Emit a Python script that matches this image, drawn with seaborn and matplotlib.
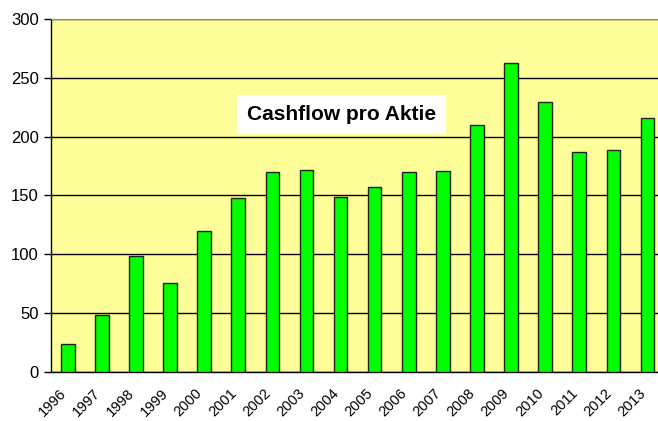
import numpy as np
import pandas as pd
import matplotlib
matplotlib.use("Agg")
import matplotlib.pyplot as plt
import matplotlib.transforms as mtransforms
import seaborn as sns

# Cashflow pro Aktie
years = ["1996", "1997", "1998", "1999", "2000", "2001", "2002", "2003", "2004",
         "2005", "2006", "2007", "2008", "2009", "2010", "2011", "2012", "2013"]
cashflow = [23.5, 48.2, 98.3, 75.6, 119.6, 147.9, 169.7, 171.4, 149.0,
            157.0, 169.7, 170.6, 209.6, 262.6, 229.2, 186.7, 188.4, 215.6]
yticks = [0, 50, 100, 150, 200, 250, 300]

df = pd.DataFrame({"year": years, "cf": cashflow})

sns.set_style("white")
plt.rcParams["font.family"] = ["Liberation Sans", "DejaVu Sans"]
plt.rcParams["text.color"] = "black"
plt.rcParams["xtick.color"] = "black"
plt.rcParams["ytick.color"] = "black"

fig = plt.figure(figsize=(6.58, 4.21), dpi=100)
ax = fig.add_axes([0.077, 0.1164, 0.933, 0.8385])
ax.set_facecolor("#FFFF99")

sns.barplot(data=df, x="year", y="cf", color="#00FF00", width=0.4,
            edgecolor="#222222", linewidth=1.0, saturation=1, ax=ax, zorder=3)

ax.set_xlim(-0.5, len(years) - 0.5)
ax.set_ylim(0, 300)
ax.set_yticks(yticks)
ax.set_yticklabels([str(v) for v in yticks], fontsize=12)
ax.yaxis.grid(True, color="black", linewidth=1.0, zorder=1)
ax.set_axisbelow(True)

# category boundary ticks, labels at centres
ax.set_xticks(np.arange(len(years)))
ax.set_xticklabels(years, rotation=45, ha="right", rotation_mode="anchor", fontsize=10.5)
ax.tick_params(axis="x", which="major", length=0, pad=8)
shift = mtransforms.ScaledTranslation(-9 / 100, -3 / 100, fig.dpi_scale_trans)
for lab in ax.get_xticklabels():
    lab.set_transform(lab.get_transform() + shift)
ax.set_xticks(np.arange(-0.5, len(years), 1.0), minor=True)
ax.tick_params(axis="x", which="minor", length=5, width=1, color="black", direction="out")
ax.tick_params(axis="y", length=5, width=1, color="black", direction="out", left=True)
ax.set_xlabel("")
ax.set_ylabel("")

for side in ["left", "bottom"]:
    ax.spines[side].set_color("black")
    ax.spines[side].set_linewidth(1.0)
ax.spines["top"].set_color("#888888")
ax.spines["right"].set_visible(False)

ax.text(0.474, 0.73, "Cashflow pro Aktie", transform=ax.transAxes,
        fontsize=15, fontweight="bold", color="black", ha="center", va="center",
        zorder=5, bbox=dict(facecolor="white", edgecolor="none", pad=7))

fig.savefig("out.png", dpi=100)
